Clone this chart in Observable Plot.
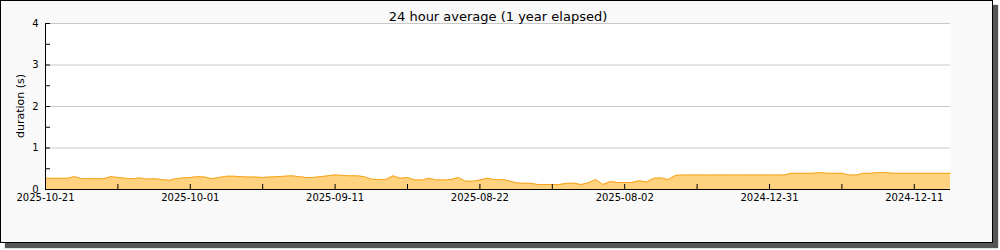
<!DOCTYPE html>
<html>
<head>
<meta charset="utf-8">
<script src="https://cdn.jsdelivr.net/npm/d3@7"></script>
<script src="https://cdn.jsdelivr.net/npm/@observablehq/plot@0.6"></script>
<style>
  html, body { margin: 0; padding: 0; background: #ffffff; }
  #box { position: absolute; left: 0; top: 0; width: 991px; height: 241px; border: 1px solid #000; background: #f9f9f9; box-shadow: 5px 5px 1px #555; }
  #chart { position: absolute; left: 0; top: 0; }
  #chart svg { background: transparent; overflow: visible; font-family: "DejaVu Sans", sans-serif; }
  #ylabel { position: absolute; left: 20px; top: 106px; transform: translate(-50%, -50%) rotate(-90deg); font: 11px "DejaVu Sans", sans-serif; color: #000; white-space: nowrap; }
</style>
</head>
<body>
<div id="box"></div>
<div id="chart"></div>
<div id="ylabel">duration (s)</div>
<script>
// Tick labels (newest first, every 20 samples)
const tickLabels = ["2025-10-21", "2025-10-01", "2025-09-11", "2025-08-22", "2025-08-02", "2024-12-31", "2024-12-11"];
const tickIndex = [0, 20, 40, 60, 80, 100, 120];
const minorTickIndex = [10, 30, 50, 70, 90, 110];
const yTicks = [0, 1, 2, 3, 4];
const yMinorTicks = [0.5, 1.5, 2.5, 3.5];
// 24 hour average duration (s), one sample per step
const durations = [
  0.27, 0.27, 0.27, 0.27, 0.31, 0.26, 0.26, 0.26, 0.26, 0.31,
  0.29, 0.27, 0.26, 0.28, 0.25, 0.26, 0.24, 0.22, 0.26, 0.28,
  0.29, 0.31, 0.30, 0.26, 0.29, 0.32, 0.32, 0.31, 0.30, 0.30,
  0.29, 0.30, 0.31, 0.32, 0.33, 0.31, 0.29, 0.29, 0.31, 0.33,
  0.35, 0.34, 0.33, 0.33, 0.31, 0.25, 0.24, 0.24, 0.33, 0.27,
  0.29, 0.23, 0.23, 0.27, 0.23, 0.23, 0.24, 0.29, 0.20, 0.20,
  0.23, 0.27, 0.24, 0.24, 0.21, 0.16, 0.15, 0.15, 0.12, 0.12,
  0.12, 0.12, 0.15, 0.15, 0.12, 0.16, 0.24, 0.12, 0.19, 0.17,
  0.17, 0.17, 0.21, 0.18, 0.27, 0.28, 0.24, 0.34, 0.35, 0.35,
  0.35, 0.35, 0.35, 0.35, 0.35, 0.35, 0.35, 0.35, 0.35, 0.35,
  0.35, 0.35, 0.35, 0.39, 0.39, 0.39, 0.39, 0.41, 0.39, 0.39,
  0.39, 0.35, 0.35, 0.39, 0.39, 0.41, 0.41, 0.39, 0.39, 0.39,
  0.39, 0.39, 0.39, 0.39, 0.39, 0.39
];
const data = durations.map((v, i) => ({i, v}));
const labelOf = new Map(tickIndex.map((t, k) => [t, tickLabels[k]]));

const chart = Plot.plot({
  width: 1000,
  height: 250,
  marginLeft: 45,
  marginRight: 50,
  marginTop: 23,
  marginBottom: 61,
  style: {fontFamily: "DejaVu Sans, sans-serif", fontSize: "10px", color: "#000"},
  x: {domain: [0, durations.length - 1]},
  y: {domain: [0, 4]},
  marks: [
    Plot.frame({fill: "white", stroke: null}),
    Plot.gridY([1, 2, 3, 4], {stroke: "#c8c8c8", strokeOpacity: 1}),
    Plot.areaY(data, {x: "i", y: "v", fill: "#ffd27f"}),
    Plot.lineY(data, {x: "i", y: "v", stroke: "#f7a41c", strokeWidth: 1}),
    Plot.ruleX([0], {stroke: "black", strokeWidth: 1}),
    Plot.ruleY([0], {stroke: "black", strokeWidth: 1}),
    // inward tick marks (major + minor)
    Plot.axisY(yTicks.concat(yMinorTicks), {tickSize: 5, dx: 5, tickFormat: () => "", label: null, stroke: "black"}),
    Plot.axisX(tickIndex.concat(minorTickIndex), {tickSize: 5, dy: -5, tickFormat: () => "", label: null, stroke: "black"}),
    // tick labels
    Plot.axisY({ticks: yTicks, tickSize: 0, tickPadding: 7, tickFormat: d => String(d), label: null, fontSize: 10}),
    Plot.axisX({ticks: tickIndex, tickSize: 0, tickPadding: 4, tickFormat: d => labelOf.get(d), label: null, fontSize: 10}),
    Plot.text(["24 hour average (1 year elapsed)"], {frameAnchor: "top", dy: -12, fontSize: 13, fill: "black"})
  ]
});
document.getElementById("chart").appendChild(chart);
</script>
</body>
</html>
